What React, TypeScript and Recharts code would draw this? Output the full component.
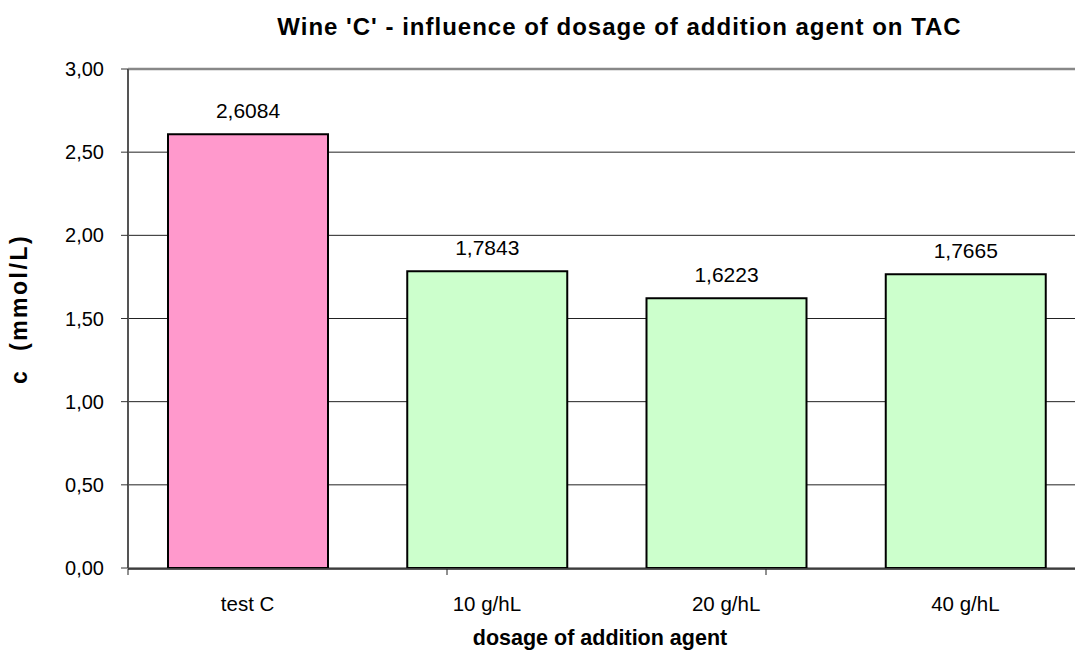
import React from "react";
import {
  BarChart,
  Bar,
  XAxis,
  YAxis,
  CartesianGrid,
  ReferenceLine,
  LabelList,
  Cell,
} from "recharts";

const categories = ["test C", "10 g/hL", "20 g/hL", "40 g/hL"];
const tacValues = [2.6084, 1.7843, 1.6223, 1.7665];
const barColors = ["#FF99CC", "#CCFFCC", "#CCFFCC", "#CCFFCC"];
const yTicks = [0, 0.5, 1, 1.5, 2, 2.5, 3];
const boundaryTicks = [0, 1, 2, 3, 4];

const title = "Wine 'C' - influence of dosage of addition agent on TAC";
const xTitle = "dosage of addition agent";
const yTitle = "c  (mmol/L)";

const data = categories.map((name, i) => ({ name, value: tacValues[i] }));

const FONT = "'Liberation Sans', Arial, sans-serif";
const comma = (v: number, d: number) => v.toFixed(d).replace(".", ",");

export default function App() {
  return (
    <div
      style={{
        position: "fixed",
        left: 0,
        top: 0,
        width: 1075,
        height: 652,
        overflow: "hidden",
        background: "#fff",
        fontFamily: FONT,
      }}
    >
      <BarChart
        width={1120}
        height={652}
        data={data}
        margin={{ top: 69, right: 35, bottom: 82, left: 0 }}
        style={{ fontFamily: FONT }}
      >
        <CartesianGrid vertical={false} stroke="#222" strokeWidth={1} />
        <XAxis
          xAxisId="grid"
          type="number"
          domain={[0, 4]}
          ticks={boundaryTicks}
          height={1}
          tick={() => <g />}
          tickSize={6}
          axisLine={{ stroke: "#222", strokeWidth: 1.5 }}
          tickLine={{ stroke: "#222", strokeWidth: 1 }}
        />
        <XAxis
          xAxisId="cat"
          dataKey="name"
          height={1}
          axisLine={false}
          tickLine={false}
          tickSize={6}
          tickMargin={22}
          interval={0}
          tick={{ fill: "#000", fontSize: 20.5, fontFamily: FONT }}
        />
        <YAxis
          domain={[0, 3]}
          ticks={yTicks}
          width={128}
          tickSize={7}
          tickMargin={17}
          tickFormatter={(v: number) => comma(v, 2)}
          tick={{ fill: "#000", fontSize: 20, fontFamily: FONT }}
          axisLine={{ stroke: "#555", strokeWidth: 2 }}
          tickLine={{ stroke: "#333", strokeWidth: 1 }}
          allowDataOverflow
        />
        <ReferenceLine y={3} xAxisId="grid" stroke="#888" strokeWidth={2.5} />
        <Bar
          dataKey="value"
          xAxisId="cat"
          barSize={160}
          stroke="#000"
          strokeWidth={2}
          isAnimationActive={false}
        >
          {data.map((d, i) => (
            <Cell key={d.name} fill={barColors[i]} />
          ))}
          <LabelList
            dataKey="value"
            position="top"
            offset={16}
            formatter={(v: number) => comma(v, 4)}
            style={{ fill: "#000", fontSize: 21, fontFamily: FONT }}
          />
        </Bar>
      </BarChart>
      <svg
        width={1075}
        height={652}
        style={{ position: "absolute", left: 0, top: 0, pointerEvents: "none" }}
      >
        <text
          x={619.5}
          y={34.5}
          textAnchor="middle"
          fontFamily={FONT}
          fontWeight="bold"
          fontSize={24}
          letterSpacing={1}
          fill="#000"
        >
          {title}
        </text>
        <text
          x={600}
          y={645}
          textAnchor="middle"
          fontFamily={FONT}
          fontWeight="bold"
          fontSize={21.5}
          fill="#000"
        >
          {xTitle}
        </text>
        <text
          transform="translate(27,309) rotate(-90)"
          textAnchor="middle"
          fontFamily={FONT}
          fontWeight="bold"
          fontSize={23}
          letterSpacing={2.5}
          fill="#000"
          style={{ whiteSpace: "pre" }}
        >
          {yTitle}
        </text>
      </svg>
    </div>
  );
}
